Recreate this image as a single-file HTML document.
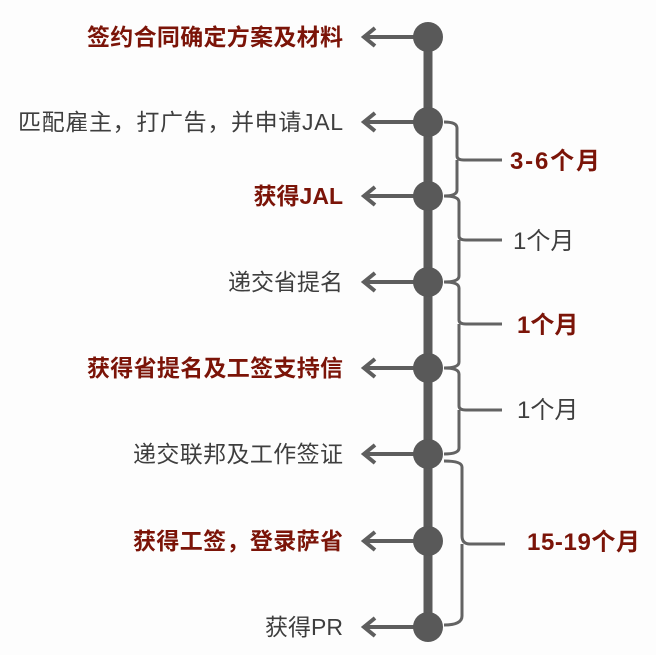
<!DOCTYPE html>
<html><head><meta charset="utf-8"><style>
html,body{margin:0;padding:0;background:#fdfdfd;}
svg{display:block}
text{font-family:"Liberation Sans","Noto Sans CJK SC",sans-serif;font-size:23px}
.r{fill:#7b1408;font-weight:bold}
.g{fill:#3e3e3e}
.n{font-size:24px}
</style></head><body>
<svg width="656" height="655" viewBox="0 0 656 655">
<g stroke="#5a5a5a" fill="none">
<line x1="428" y1="37" x2="428" y2="627" stroke-width="9"/>
</g>
<g stroke="#5e5e5e" stroke-width="4" fill="none">
<path d="M428 37H364M375 28L364 37L375 46"/>
<path d="M428 122H364M375 113L364 122L375 131"/>
<path d="M428 196H364M375 187L364 196L375 205"/>
<path d="M428 282H364M375 273L364 282L375 291"/>
<path d="M428 368H364M375 359L364 368L375 377"/>
<path d="M428 454H364M375 445L364 454L375 463"/>
<path d="M428 541H364M375 532L364 541L375 550"/>
<path d="M428 627H364M375 618L364 627L375 636"/>
</g>
<g fill="#595959">
<circle cx="428" cy="37" r="15"/><circle cx="428" cy="122" r="15"/>
<circle cx="428" cy="196" r="15"/><circle cx="428" cy="282" r="15"/>
<circle cx="428" cy="368" r="15"/><circle cx="428" cy="454" r="15"/>
<circle cx="428" cy="541" r="15"/><circle cx="428" cy="627" r="15"/>
</g>
<g stroke="#636363" stroke-width="3" fill="none">
<path d="M444 122Q457 122 457 128V156Q457 160 464 160H502M457 160Q457 164 457 168V190Q457 196 444 196"/>
<path d="M444 196Q459 196 459 202V236Q459 240 466 240H502M459 240Q459 244 459 248V276Q459 282 444 282"/>
<path d="M444 282Q459 282 459 288V320Q459 324 466 324H502M459 324Q459 328 459 332V362Q459 368 444 368"/>
<path d="M444 368Q459 368 459 374V406Q459 410 466 410H502M459 410Q459 414 459 418V448Q459 454 444 454"/>
<path d="M444 461Q462 461 462 467V536Q462 544 470 544H505M462 544Q462 552 462 556V616Q462 625 444 625"/>
</g>
<g text-anchor="end">
<text x="343" y="45" class="r" textLength="256">签约合同确定方案及材料</text>
<text x="343" y="130" class="g" textLength="325">匹配雇主，打广告，并申请JAL</text>
<text x="343" y="204" class="r">获得JAL</text>
<text x="343" y="290" class="g">递交省提名</text>
<text x="343" y="376" class="r" textLength="256">获得省提名及工签支持信</text>
<text x="343" y="462" class="g" textLength="210">递交联邦及工作签证</text>
<text x="343" y="549" class="r" textLength="210">获得工签，登录萨省</text>
<text x="343" y="635" class="g">获得PR</text>
</g>
<text x="510" y="169" class="r n" textLength="90">3-6个月</text>
<text x="513" y="249" class="g n">1个月</text>
<text x="517" y="333" class="r n">1个月</text>
<text x="517" y="418" class="g n">1个月</text>
<text x="527" y="550" class="r n" textLength="113">15-19个月</text>
</svg>
</body></html>
